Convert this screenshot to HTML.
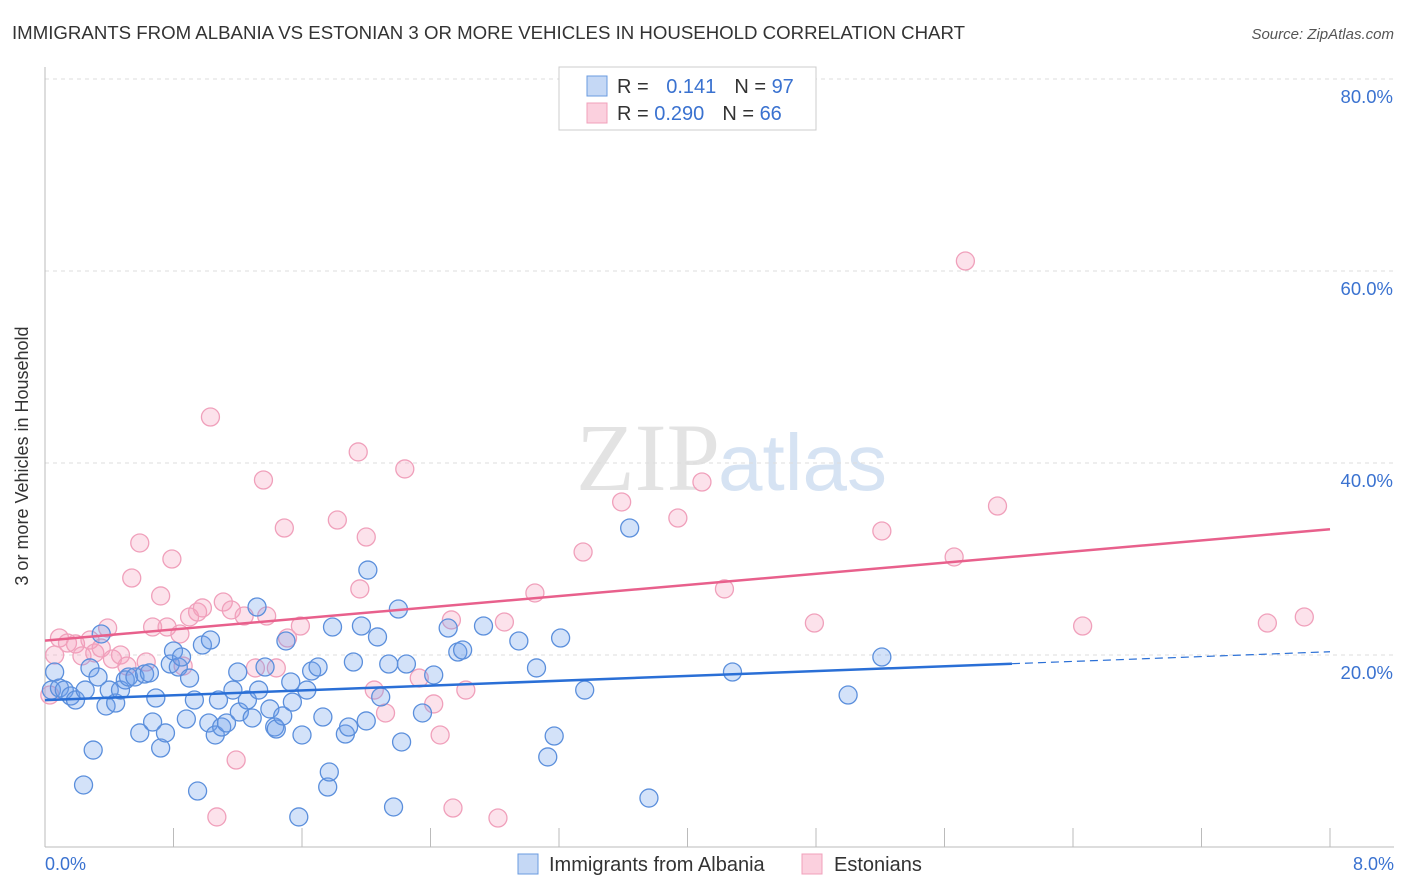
<!DOCTYPE html>
<html><head><meta charset="utf-8"><style>
body{margin:0;background:#fff;font-family:"Liberation Sans",sans-serif;}
svg{display:block}
</style></head><body>
<svg id="c" width="1406" height="892" xmlns="http://www.w3.org/2000/svg">
<text x="12" y="39" font-size="18" fill="#333" textLength="953" lengthAdjust="spacingAndGlyphs">IMMIGRANTS FROM ALBANIA VS ESTONIAN 3 OR MORE VEHICLES IN HOUSEHOLD CORRELATION CHART</text>
<text x="1394" y="39" font-size="15" fill="#555" font-style="italic" text-anchor="end">Source: ZipAtlas.com</text>
<text x="720" y="490" font-size="96" fill="#e3e3e3" text-anchor="end" font-family="Liberation Serif,serif">ZIP</text>
<text x="718" y="490" font-size="80" fill="#d6e3f3">atlas</text>
<g id="grid"></g><g id="axes"></g><g id="pts"></g><g id="trend"></g>
<text x="28" y="456" font-size="18" fill="#333" text-anchor="middle" transform="rotate(-90 28 456)">3 or more Vehicles in Household</text>
<text x="45" y="870" font-size="18" fill="#3a72d0">0.0%</text>
<text x="1394" y="870" font-size="18" fill="#3a72d0" text-anchor="end">8.0%</text>
<g>
<rect x="559" y="67" width="257" height="63" fill="#fff" stroke="#ccc"/>
<rect x="587" y="76" width="20" height="20" fill="#c5d8f5" stroke="#6a9be0"/>
<rect x="587" y="103" width="20" height="20" fill="#fbd0de" stroke="#f0a0bb"/>
<text x="617" y="93" font-size="20" fill="#333">R = <tspan fill="#3a72d0" dx="12">0.141</tspan><tspan dx="18">N = </tspan><tspan fill="#3a72d0">97</tspan></text>
<text x="617" y="120" font-size="20" fill="#333">R = <tspan fill="#3a72d0">0.290</tspan><tspan dx="18">N = </tspan><tspan fill="#3a72d0">66</tspan></text>
</g>
<g>
<rect x="518" y="854" width="20" height="20" fill="#c5d8f5" stroke="#6a9be0"/>
<text x="549" y="871" font-size="20" fill="#333">Immigrants from Albania</text>
<rect x="802" y="854" width="20" height="20" fill="#fbd0de" stroke="#f0a0bb"/>
<text x="834" y="871" font-size="20" fill="#333">Estonians</text>
</g>
</svg>
<script>
const blueX=[0.04,0.06,0.09,0.12,0.16,0.19,0.25,0.28,0.24,0.30,0.33,0.35,0.38,0.40,0.44,0.47,0.50,0.52,0.56,0.59,0.62,0.65,0.67,0.69,0.72,0.75,0.78,0.80,0.83,0.85,0.88,0.90,0.93,0.95,0.98,1.02,1.03,1.06,1.08,1.10,1.13,1.17,1.20,1.21,1.26,1.29,1.32,1.33,1.37,1.40,1.43,1.44,1.48,1.50,1.53,1.54,1.58,1.60,1.63,1.66,1.70,1.73,1.76,1.77,1.79,1.87,1.89,1.92,1.97,2.00,2.01,2.07,2.09,2.14,2.20,2.22,2.25,2.17,2.35,2.42,2.51,2.57,2.60,2.73,2.95,3.06,3.13,3.17,3.21,3.36,3.64,3.76,4.28,5.00,5.21];
const blueY=[16.35,18.23,16.56,16.35,15.73,15.31,16.35,18.65,6.46,10.10,17.71,22.19,14.69,16.35,15.0,16.35,17.40,17.71,17.71,11.88,18.02,18.13,13.02,15.52,10.31,11.88,19.06,20.42,18.75,19.79,13.33,17.60,15.31,5.83,21.04,12.92,21.56,11.67,15.31,12.5,12.92,16.35,18.23,14.06,15.31,13.44,25.0,16.35,18.75,14.38,12.5,12.29,13.65,21.46,17.19,15.10,3.13,11.67,16.35,18.33,18.75,13.54,6.25,7.81,22.92,11.77,12.5,19.27,23.02,13.13,28.85,21.88,15.63,19.06,24.79,10.94,19.06,4.17,13.96,17.92,22.81,20.31,20.52,23.02,21.46,18.65,9.38,11.56,21.77,16.35,33.23,5.10,18.23,15.83,19.79];
const pinkX=[0.03,0.06,0.09,0.14,0.19,0.23,0.28,0.31,0.35,0.39,0.42,0.47,0.51,0.54,0.59,0.63,0.67,0.72,0.76,0.79,0.84,0.86,0.90,0.95,0.98,1.03,1.07,1.11,1.16,1.19,1.24,1.31,1.36,1.38,1.44,1.49,1.51,1.59,1.82,1.95,1.96,2.00,2.05,2.12,2.24,2.33,2.42,2.46,2.53,2.54,2.62,2.82,2.86,3.05,3.35,3.59,3.94,4.09,4.23,4.79,5.21,5.66,5.73,5.93,6.46,7.61,7.84];
const pinkY=[15.83,20.0,21.77,21.25,21.15,19.90,21.56,20.21,20.73,22.81,19.58,20.0,18.85,28.02,31.67,19.27,22.92,26.15,22.92,30.0,22.19,18.85,23.96,24.48,24.90,44.79,3.13,25.52,24.69,9.06,24.06,18.65,38.23,24.06,18.65,33.23,21.77,23.02,34.06,41.15,26.88,32.29,16.35,13.96,39.38,17.60,14.90,11.67,23.65,4.06,16.35,3.02,23.44,26.46,30.73,35.94,34.27,38.02,26.88,23.33,32.92,30.21,61.04,35.52,23.02,23.33,23.96];
const yTicks=[20,40,60,80];
const xTicks=[0,0.8,1.6,2.4,3.2,4.0,4.8,5.6,6.4,7.2,8.0];
const blueTrend=[15.3,0.63];
const pinkTrend=[21.5,1.45];
const NS="http://www.w3.org/2000/svg";
const sx=v=>45+v*1285/8, sy=v=>847-v*9.6;
function mk(tag,attrs,parent){const e=document.createElementNS(NS,tag);for(const k in attrs)e.setAttribute(k,attrs[k]);parent.appendChild(e);return e;}
const grid=document.getElementById('grid'),axes=document.getElementById('axes'),pts=document.getElementById('pts'),tr=document.getElementById('trend');
yTicks.forEach(t=>{
 const l=mk('line',{x1:45,x2:1394,y1:sy(t),y2:sy(t),stroke:'#ddd','stroke-dasharray':'4,4'},grid);
 
 
 const tx=mk('text',{x:1393,y:sy(t)+24,'font-size':18.5,fill:'#3a72d0','text-anchor':'end'},grid);
 tx.textContent=t.toFixed(1)+'%';
 
 
});
const ya=mk('line',{x1:45,x2:45,y1:67,y2:847,stroke:'#bbb'},axes);


const xa=mk('line',{x1:45,x2:1394,y1:847,y2:847,stroke:'#bbb'},axes);


xTicks.forEach(t=>{
 const l=mk('line',{x1:sx(t),x2:sx(t),y1:828,y2:847,stroke:'#bbb'},axes);
 
 
});
function drawPts(X,Y,fill,stroke,name){
 X.forEach((x,i)=>{
  const c=mk('circle',{cx:sx(x),cy:sy(Y[i]),r:9,fill:fill,stroke:stroke,'stroke-width':1.3},pts);
  
  
 });
}
drawPts(pinkX,pinkY,'rgba(244,160,190,0.3)','#f0a0bb','point-estonians');
drawPts(blueX,blueY,'rgba(110,160,235,0.3)','#5b8fdc','point-albania');
const bEnd=6.02;
const b1=mk('line',{x1:sx(0),y1:sy(blueTrend[0]),x2:sx(bEnd),y2:sy(blueTrend[0]+blueTrend[1]*bEnd),stroke:'#2a6fd6','stroke-width':2.5},tr);


const b2=mk('line',{x1:sx(bEnd),y1:sy(blueTrend[0]+blueTrend[1]*bEnd),x2:sx(8),y2:sy(blueTrend[0]+blueTrend[1]*8),stroke:'#2a6fd6','stroke-width':1.2,'stroke-dasharray':'8,5'},tr);


const p1=mk('line',{x1:sx(0),y1:sy(pinkTrend[0]),x2:sx(8),y2:sy(pinkTrend[0]+pinkTrend[1]*8),stroke:'#e8608c','stroke-width':2.5},tr);


</script>
</body></html>
